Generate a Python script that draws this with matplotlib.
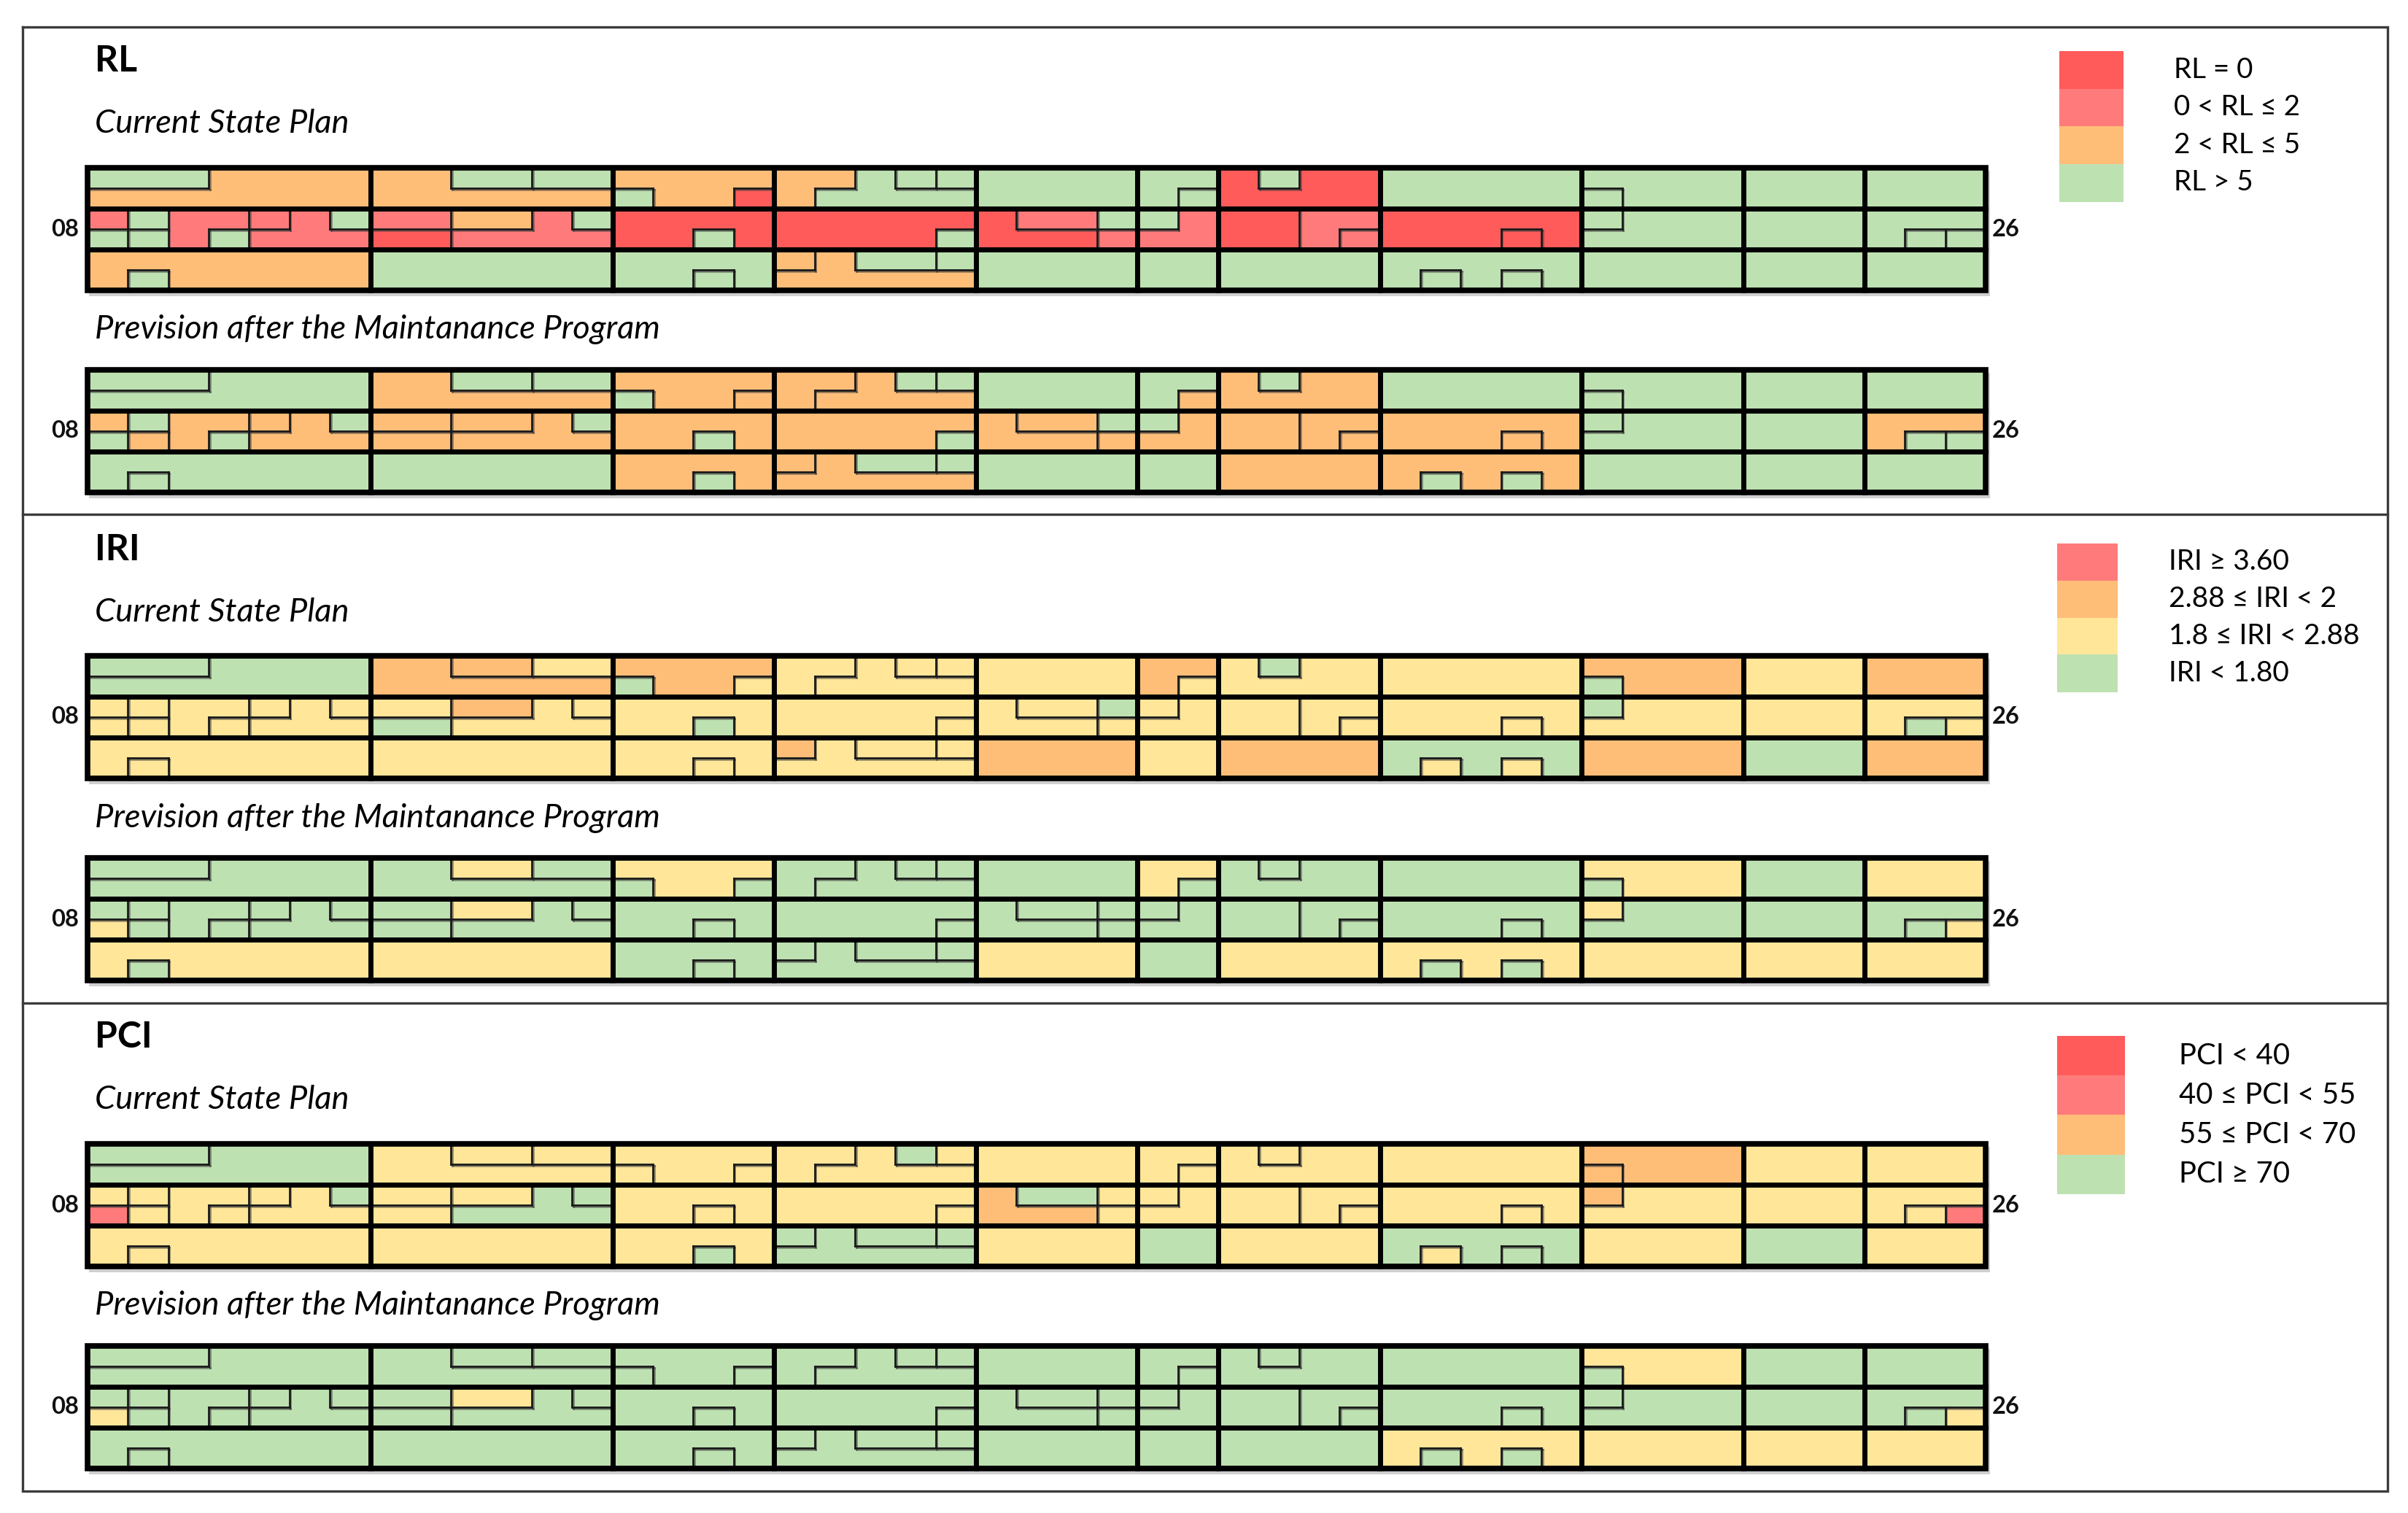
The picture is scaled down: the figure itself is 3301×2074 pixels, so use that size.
import numpy as np
import matplotlib
matplotlib.use("Agg")
import matplotlib.pyplot as plt
from matplotlib.patches import Rectangle
from matplotlib.collections import LineCollection
import matplotlib.patheffects as pe

# ---------------------------------------------------------------- data
CLASS_COLORS = {"R": "#FF5B5B", "S": "#FF7B7B", "O": "#FFBE78",
                "Y": "#FFE699", "G": "#BEE1B2"}

INDICATORS = ["RL", "IRI", "PCI"]
PLAN_TITLES = ["Current State Plan", "Prevision after the Maintanance Program"]
END_LABELS = ["08", "26"]

# colour class of every pavement slab, section by section (A ... K)
RL_current = ["GOSGGGSGSSGOG", "OGGSROSGG", "OGRRGGG", "OGGGRGOOGG", "GRSGSG",
              "GGGSG", "RGRSSG", "GRRGGG", "GGGGG", "GGG", "GGGGG"]
RL_prevision = ["GGOGGOOGOOGGG", "OGGOOOOGG", "OGOOGOG", "OOGGOGOOGG", "GOOGOG",
                "GOGOG", "OGOOOO", "GOOOGG", "GGGGG", "GGG", "GOGGG"]
IRI_current = ["GGYYYYYYYYYYY", "OOYYGOYYY", "OGYYGYY", "YYYYYYOYYY", "YYYGYO",
               "OYYYY", "YGYYYO", "YYYGYY", "OGGYO", "YYG", "OYGYO"]
IRI_prevision = ["GGGYGGGGGGGYG", "GYGGGYGGY", "YGGGGGG", "GGGGGGGGGG", "GGGGGY",
                 "YGGGG", "GGGGGY", "GGGYGG", "YGYGY", "GGY", "YGGYY"]
PCI_current = ["GGYSYYYYYYGYY", "YYYYYYGGY", "YYYYYYG", "YYGYYYGGGG", "YOGYYY",
               "YYYYG", "YYYYYY", "YYYGYG", "OOOYY", "YYG", "YYYSY"]
PCI_prevision = ["GGGYGGGGGGGGG", "GGGGGYGGG", "GGGGGGG", "GGGGGGGGGG", "GGGGGG",
                 "GGGGG", "GGGGGG", "GGGYGG", "YGGGY", "GGY", "GGGYY"]

RL_legend = ["RL = 0", "0 < RL \u2264 2", "2 < RL \u2264 5", "RL > 5"]
RL_legend_classes = "RSOG"
IRI_legend = ["IRI \u2265 3.60", "2.88 \u2264 IRI < 2", "1.8 \u2264 IRI < 2.88", "IRI < 1.80"]
IRI_legend_classes = "SOYG"
PCI_legend = ["PCI < 40", "40 \u2264 PCI < 55", "55 \u2264 PCI < 70", "PCI \u2265 70"]
PCI_legend_classes = "RSOG"

MAPS = {"RL": (RL_current, RL_prevision),
        "IRI": (IRI_current, IRI_prevision),
        "PCI": (PCI_current, PCI_prevision)}
LEGENDS = {"RL": (RL_legend, RL_legend_classes),
           "IRI": (IRI_legend, IRI_legend_classes),
           "PCI": (PCI_legend, PCI_legend_classes)}

# ---------------------------------------------------------------- runway layout
# grid: 47 slab units along the runway, 6 half-lanes across (0 = top)
SECTION_EDGES = [0, 7, 13, 17, 22, 26, 28, 32, 37, 41, 44, 47]
NX, NY = 47, 6
CELLS = [
    # section A
    [[(0, 3, 0, 1)], [(3, 7, 0, 1), (0, 7, 1, 2)], [(0, 1, 2, 3)], [(0, 1, 3, 4)],
     [(1, 2, 2, 3)], [(1, 2, 3, 4)], [(2, 4, 2, 3), (2, 3, 3, 4)], [(3, 4, 3, 4)],
     [(4, 5, 2, 3)], [(5, 6, 2, 3), (4, 7, 3, 4)], [(6, 7, 2, 3)],
     [(0, 7, 4, 5), (0, 1, 5, 6), (2, 7, 5, 6)], [(1, 2, 5, 6)]],
    # section B
    [[(7, 9, 0, 1), (7, 13, 1, 2)], [(9, 11, 0, 1)], [(11, 13, 0, 1)], [(7, 9, 2, 3)],
     [(7, 9, 3, 4)], [(9, 11, 2, 3)], [(11, 12, 2, 3), (9, 13, 3, 4)], [(12, 13, 2, 3)],
     [(7, 13, 4, 6)]],
    # section C
    [[(13, 17, 0, 1), (14, 16, 1, 2)], [(13, 14, 1, 2)], [(16, 17, 1, 2)],
     [(13, 17, 2, 3), (13, 15, 3, 4), (16, 17, 3, 4)], [(15, 16, 3, 4)],
     [(13, 17, 4, 5), (13, 15, 5, 6), (16, 17, 5, 6)], [(15, 16, 5, 6)]],
    # section D
    [[(17, 19, 0, 1), (17, 18, 1, 2)], [(19, 20, 0, 1), (18, 22, 1, 2)], [(20, 21, 0, 1)],
     [(21, 22, 0, 1)], [(17, 22, 2, 3), (17, 21, 3, 4)], [(21, 22, 3, 4)],
     [(17, 18, 4, 5)], [(18, 19, 4, 5), (17, 22, 5, 6)], [(19, 21, 4, 5)], [(21, 22, 4, 5)]],
    # section E
    [[(22, 26, 0, 2)], [(22, 23, 2, 3), (22, 25, 3, 4)], [(23, 25, 2, 3)], [(25, 26, 2, 3)],
     [(25, 26, 3, 4)], [(22, 26, 4, 6)]],
    # section F
    [[(26, 28, 0, 1), (26, 27, 1, 2)], [(27, 28, 1, 2)], [(26, 27, 2, 3)],
     [(27, 28, 2, 3), (26, 28, 3, 4)], [(26, 28, 4, 6)]],
    # section G
    [[(28, 29, 0, 1), (30, 32, 0, 1), (28, 32, 1, 2)], [(29, 30, 0, 1)], [(28, 30, 2, 4)],
     [(30, 32, 2, 3), (30, 31, 3, 4)], [(31, 32, 3, 4)], [(28, 32, 4, 6)]],
    # section H
    [[(32, 37, 0, 2)], [(32, 37, 2, 3), (32, 35, 3, 4), (36, 37, 3, 4)], [(35, 36, 3, 4)],
     [(32, 37, 4, 5), (32, 33, 5, 6), (34, 35, 5, 6), (36, 37, 5, 6)], [(33, 34, 5, 6)],
     [(35, 36, 5, 6)]],
    # section I
    [[(37, 41, 0, 1), (38, 41, 1, 2)], [(37, 38, 1, 2)], [(37, 38, 2, 3)],
     [(38, 41, 2, 3), (37, 41, 3, 4)], [(37, 41, 4, 6)]],
    # section J
    [[(41, 44, 0, 2)], [(41, 44, 2, 4)], [(41, 44, 4, 6)]],
    # section K
    [[(44, 47, 0, 2)], [(44, 47, 2, 3), (44, 45, 3, 4)], [(45, 46, 3, 4)], [(46, 47, 3, 4)],
     [(44, 47, 4, 6)]],
]
CELL_LIST = [c for sec in CELLS for c in sec]

W, H = 3301, 2074
X0, X1, SH = 120, 2722, 168
PANEL_STEP = 669
FONT = ["Lato", "DejaVu Sans"]

fig = plt.figure(figsize=(W / 100, H / 100), dpi=100)
fig.patch.set_facecolor("white")
bg = fig.add_axes([0, 0, 1, 1])
bg.set_xlim(0, W)
bg.set_ylim(H, 0)
bg.axis("off")
renderer = fig.canvas.get_renderer()


def fit_size(s, target_w, **kw):
    t = bg.text(0, 0, s, fontsize=20, **kw)
    w = t.get_window_extent(renderer).width
    t.remove()
    return 20 * target_w / w


# outer frame and panel separators
frame_c = "#3c3c3c"
bg.plot([31, 3273, 3273, 31, 31], [37, 37, 2044, 2044, 37], color=frame_c, lw=2.4,
        solid_joinstyle="miter")
for ysep in (705, 1375):
    bg.plot([31, 3273], [ysep, ysep], color=frame_c, lw=2.4)

# grid of cell indices and boundaries
grid = -np.ones((NY, NX), int)
for ci, rects in enumerate(CELL_LIST):
    for x0, x1, y0, y1 in rects:
        grid[y0:y1, x0:x1] = ci


def merge(segs_dict):
    out = []
    for key, ivs in segs_dict.items():
        ivs = sorted(ivs)
        cur = list(ivs[0])
        for a, b in ivs[1:]:
            if a == cur[1]:
                cur[1] = b
            else:
                out.append((key, tuple(cur)))
                cur = [a, b]
        out.append((key, tuple(cur)))
    return out


thin_v, thin_h, thick_v, thick_h = {}, {}, {}, {}
for x in range(1, NX):
    for y in range(NY):
        if grid[y, x - 1] != grid[y, x]:
            d = thick_v if x in SECTION_EDGES else thin_v
            d.setdefault(x, []).append((y, y + 1))
for y in range(1, NY):
    for x in range(NX):
        if grid[y - 1, x] != grid[y, x]:
            d = thick_h if y in (2, 4) else thin_h
            d.setdefault(y, []).append((x, x + 1))

thin_segs = [[(x, a), (x, b)] for x, (a, b) in merge(thin_v)] + \
            [[(a, y), (b, y)] for y, (a, b) in merge(thin_h)]
thick_segs = [[(x, a), (x, b)] for x, (a, b) in merge(thick_v)] + \
             [[(a, y), (b, y)] for y, (a, b) in merge(thick_h)]


def draw_strip(top, codes):
    # soft drop shadow
    bg.add_patch(Rectangle((X0 + 2, top + 4), X1 - X0 + 4, SH + 4, fc="#cfcfcf",
                           ec="none", zorder=0))
    ax = fig.add_axes([X0 / W, 1 - (top + SH) / H, (X1 - X0) / W, SH / H])
    ax.set_xlim(0, NX)
    ax.set_ylim(NY, 0)
    ax.axis("off")
    colors = "".join(codes)
    for rects, code in zip(CELL_LIST, colors):
        for x0, x1, y0, y1 in rects:
            ax.add_patch(Rectangle((x0, y0), x1 - x0, y1 - y0, fc=CLASS_COLORS[code],
                                   ec="none", lw=0, antialiased=False, zorder=1))
    lc = LineCollection(thin_segs, colors="#1a1a1a", linewidths=2.0, zorder=2,
                        capstyle="projecting", clip_on=False)
    lc.set_path_effects([pe.SimpleLineShadow(offset=(1.2, -1.2), shadow_color="#404040",
                                             alpha=0.55), pe.Normal()])
    ax.add_collection(lc)
    ax.add_collection(LineCollection(thick_segs, colors="black", linewidths=5.0, zorder=3,
                                     capstyle="projecting", clip_on=False))
    ax.add_patch(Rectangle((0, 0), NX, NY, fc="none", ec="black", lw=5.5, zorder=4,
                           clip_on=False, joinstyle="miter"))
    ymid = top + SH / 2
    bg.text(108, ymid, END_LABELS[0], ha="right", va="center", fontsize=lab_fs,
            family=FONT, weight="bold", color="#111111")
    bg.text(2731, ymid, END_LABELS[1], ha="left", va="center", fontsize=lab_fs,
            family=FONT, weight="bold", color="#111111")


title_fs = fit_size("RL", 58, family=FONT, weight="bold")
plan_fs = fit_size(PLAN_TITLES[1], 775, family=FONT, style="italic")
lab_fs = fit_size("08", 38, family=FONT, weight="bold")

legend_geom = {
    "RL": dict(bx=2823, bw=88, by=70, bh=51.5, tx=2980, w_ref=(1, 173)),
    "IRI": dict(bx=2820, bw=83, by=745, bh=50.8, tx=2973, w_ref=(2, 262)),
    "PCI": dict(bx=2820, bw=93, by=1420, bh=54.2, tx=2987, w_ref=(2, 242)),
}

for k, name in enumerate(INDICATORS):
    off = k * PANEL_STEP
    bg.text(130, 84 + off, name, ha="left", va="center", fontsize=title_fs,
            family=FONT, weight="bold", color="black")
    bg.text(130, 170 + off, PLAN_TITLES[0], ha="left", va="center", fontsize=plan_fs,
            family=FONT, style="italic", color="black")
    bg.text(130, 452 + off, PLAN_TITLES[1], ha="left", va="center", fontsize=plan_fs,
            family=FONT, style="italic", color="black")
    cur, prev = MAPS[name]
    draw_strip(230 + off, cur)
    draw_strip(507 + off, prev)

    labels, classes = LEGENDS[name]
    g = legend_geom[name]
    lfs = fit_size(labels[g["w_ref"][0]], g["w_ref"][1], family=FONT)
    for i, (lab, cls) in enumerate(zip(labels, classes)):
        y0 = g["by"] + i * g["bh"]
        bg.add_patch(Rectangle((g["bx"], y0), g["bw"], g["bh"] + 0.5,
                               fc=CLASS_COLORS[cls], ec="none", antialiased=False))
        bg.text(g["tx"], y0 + g["bh"] / 2, lab, ha="left", va="center", fontsize=lfs,
                family=FONT, color="black")

fig.savefig("out.png", dpi=100, facecolor="white")
